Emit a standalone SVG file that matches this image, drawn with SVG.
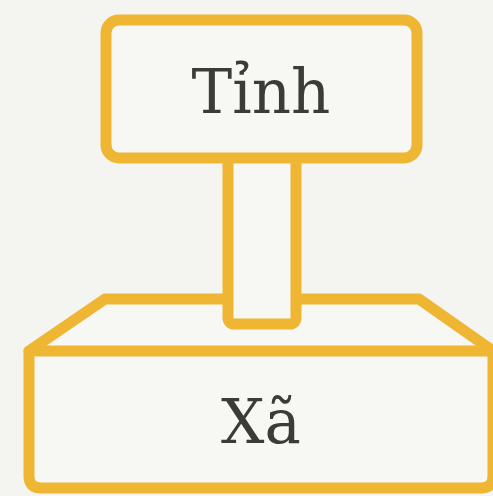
<svg xmlns="http://www.w3.org/2000/svg" width="493" height="496" viewBox="0 0 493 496">
<style>
.shape{fill:#f7f7f4;stroke:#eeb632;stroke-width:11;stroke-linejoin:round;stroke-linecap:round}
.lbl{font-family:"DejaVu Serif","Liberation Serif",serif;font-size:61px;fill:#3b3b38;text-anchor:middle}
</style>
<rect width="493" height="496" fill="#f4f4f1"/>
<g id="xa">
<path class="shape" d="M29,351 L105,299 L419,299 L493,351 L493,476 Q493,488 481,488 L41,488 Q29,488 29,476 Z"/>
<path class="shape" d="M29,351 H493" fill="none"/>
<text class="lbl" x="261" y="443">Xã</text>
</g>
<g id="connectors">
<rect class="shape" x="228" y="140" width="68" height="184" rx="6"/>
</g>
<g id="tinh">
<rect class="shape" x="106" y="20" width="311" height="138" rx="13"/>
<text class="lbl" x="261" y="113">Tỉnh</text>
</g>
</svg>
